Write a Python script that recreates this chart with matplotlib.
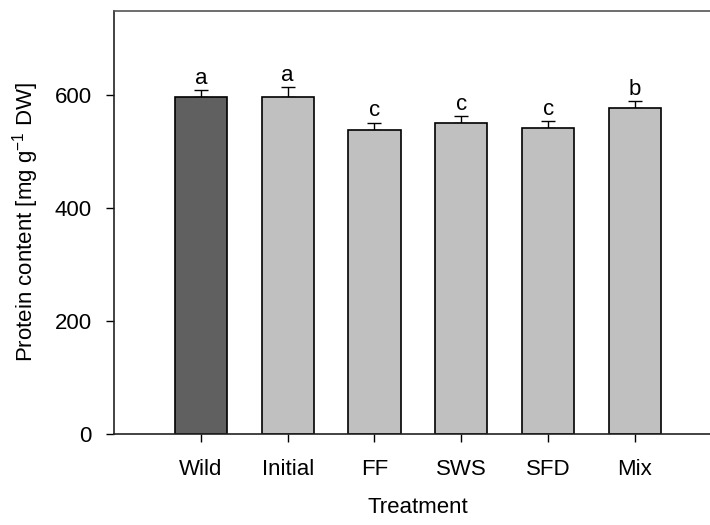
import numpy as np
import matplotlib.pyplot as plt

plt.rcParams['font.family'] = ['Liberation Sans', 'DejaVu Sans']

# Protein content per treatment, mean and upper error
treatments = ['Wild', 'Initial', 'FF', 'SWS', 'SFD', 'Mix']
protein = [597, 597, 539, 551, 542, 577]
error = [12, 18, 13, 12, 13, 13]
letters = ['a', 'a', 'c', 'c', 'c', 'b']
colors = ['#606060', '#c0c0c0', '#c0c0c0', '#c0c0c0', '#c0c0c0', '#c0c0c0']


def main():
    fig = plt.figure(figsize=(7.1, 5.25), dpi=100)
    ax = fig.add_axes([0.1606, 0.1733, 0.856, 0.806])

    x = np.arange(len(treatments))
    ax.bar(x, protein, width=0.6, color=colors, edgecolor='black', linewidth=1.2, zorder=2)

    # Upper error bars only
    ax.errorbar(x, protein, yerr=[np.zeros(len(error)), error], fmt='none',
                ecolor='black', elinewidth=1, capsize=5, capthick=1, zorder=1)

    # Significance letters above the caps
    for xi, p, e, l in zip(x, protein, error, letters):
        ax.text(xi, p + e + 2, l, ha='center', va='bottom', fontsize=16)

    ax.set_xlim(-1, 6)
    ax.set_ylim(0, 750)
    ax.set_yticks([0, 200, 400, 600])
    ax.set_xticks(x)
    ax.set_xticklabels(treatments)
    ax.tick_params(axis='both', labelsize=16, direction='out', length=6, width=1)
    ax.tick_params(axis='x', pad=12)
    ax.tick_params(axis='y', pad=10)

    ax.spines['left'].set_color('#222222')
    ax.spines['bottom'].set_color('#222222')
    ax.spines['top'].set_color('#555555')
    ax.spines['right'].set_visible(False)
    for s in ax.spines.values():
        s.set_linewidth(1.2)

    ax.set_ylabel('Protein content [mg g$^{\\mathregular{-1}}$ DW]', fontsize=16, labelpad=10)
    ax.set_xlabel('Treatment', fontsize=16, labelpad=12)

    fig.savefig('out.png', dpi=100)


if __name__ == "__main__":
    main()
